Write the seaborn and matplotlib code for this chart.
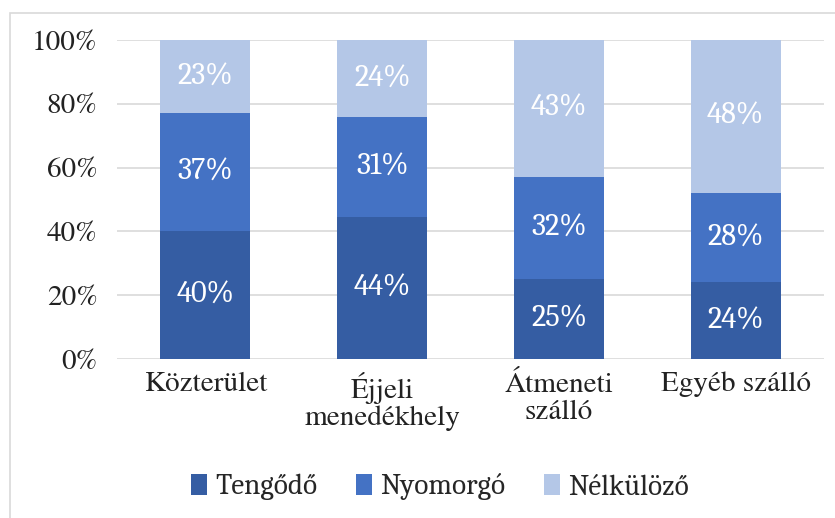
import matplotlib
matplotlib.use('Agg')
import matplotlib.pyplot as plt
import seaborn as sns
import pandas as pd
from matplotlib.patches import Rectangle
import logging
logging.getLogger('matplotlib.font_manager').setLevel(logging.ERROR)

# 数据
categories = ['Közterület', 'Éjjeli\nmenedékhely', 'Átmeneti\nszálló', 'Egyéb szálló']
series = ['Tengődő', 'Nyomorgó', 'Nélkülöző']
tengodo = [40, 44, 25, 24]
nyomorgo = [37, 31, 32, 28]
nelkulozo = [23, 24, 43, 48]
colors = ['#355DA3', '#4472C4', '#B4C7E7']

sns.set_theme(style='white')
# 坐标轴用 Times 风格（matplotlib 自带 STIX），标签和图例用 Cambria 风格
tick_family = ['STIXGeneral', 'DejaVu Serif']
label_family = ['Caladea', 'Noto Serif', 'DejaVu Serif']
plt.rcParams['font.family'] = label_family

df = pd.DataFrame({'cat': categories, series[0]: tengodo, series[1]: nyomorgo, series[2]: nelkulozo})
totals = df[series].sum(axis=1)
shares = df[series].div(totals, axis=0) * 100

fig = plt.figure(figsize=(8.35, 5.18), dpi=100)
ax = fig.add_axes([117 / 835, 1 - 359 / 518, 707 / 835, 319 / 518])

bottom = pd.Series([0.0] * len(categories))
for name, col in zip(series, colors):
    sns.barplot(x=df['cat'], y=shares[name] + bottom, color=col, width=0.51, saturation=1,
                ax=ax, label=name, zorder=3 - series.index(name) * 0.1)
    for i, (b, h, v) in enumerate(zip(bottom, shares[name], df[name])):
        ax.text(i, b + h / 2, f'{v}%', ha='center', va='center', color='white',
                fontsize=22, family=label_family, zorder=10)
    bottom = bottom + shares[name]

for p in ax.patches:
    p.set_linewidth(0)

ax.set_xlim(-0.5, 3.5)
ax.set_ylim(0, 100)
ax.set_yticks(range(0, 101, 20))
ax.set_yticklabels([f'{t}%' for t in range(0, 101, 20)], color='#222222',
                   fontsize=21, family=tick_family)
ax.set_xticks(range(4))
ax.set_xticklabels(categories, color='#222222', linespacing=1.1,
                   fontsize=21, family=tick_family)
ax.set_xlabel('')
ax.set_ylabel('')
ax.tick_params(axis='y', pad=14, length=0)
ax.tick_params(axis='x', pad=9, length=0)
ax.grid(axis='y', color='#D9D9D9', linewidth=1.2, zorder=0)
ax.set_axisbelow(True)
for s in ax.spines.values():
    s.set_visible(False)

handles, labels = ax.get_legend_handles_labels()
ax.legend(handles, labels, loc='center', bbox_to_anchor=(440 / 835, 1 - 487 / 518),
          bbox_transform=fig.transFigure, ncol=3, frameon=False,
          prop={'family': label_family, 'size': 21}, handlelength=0.55, handleheight=0.7,
          handletextpad=0.3, columnspacing=1.3)

fig.patches.append(Rectangle((10 / 835, -0.1), 1.0, 1 - 13 / 518 + 0.1, transform=fig.transFigure,
                             fill=False, edgecolor='#D9D9D9', linewidth=1.2))

fig.savefig('out.png', dpi=100)
